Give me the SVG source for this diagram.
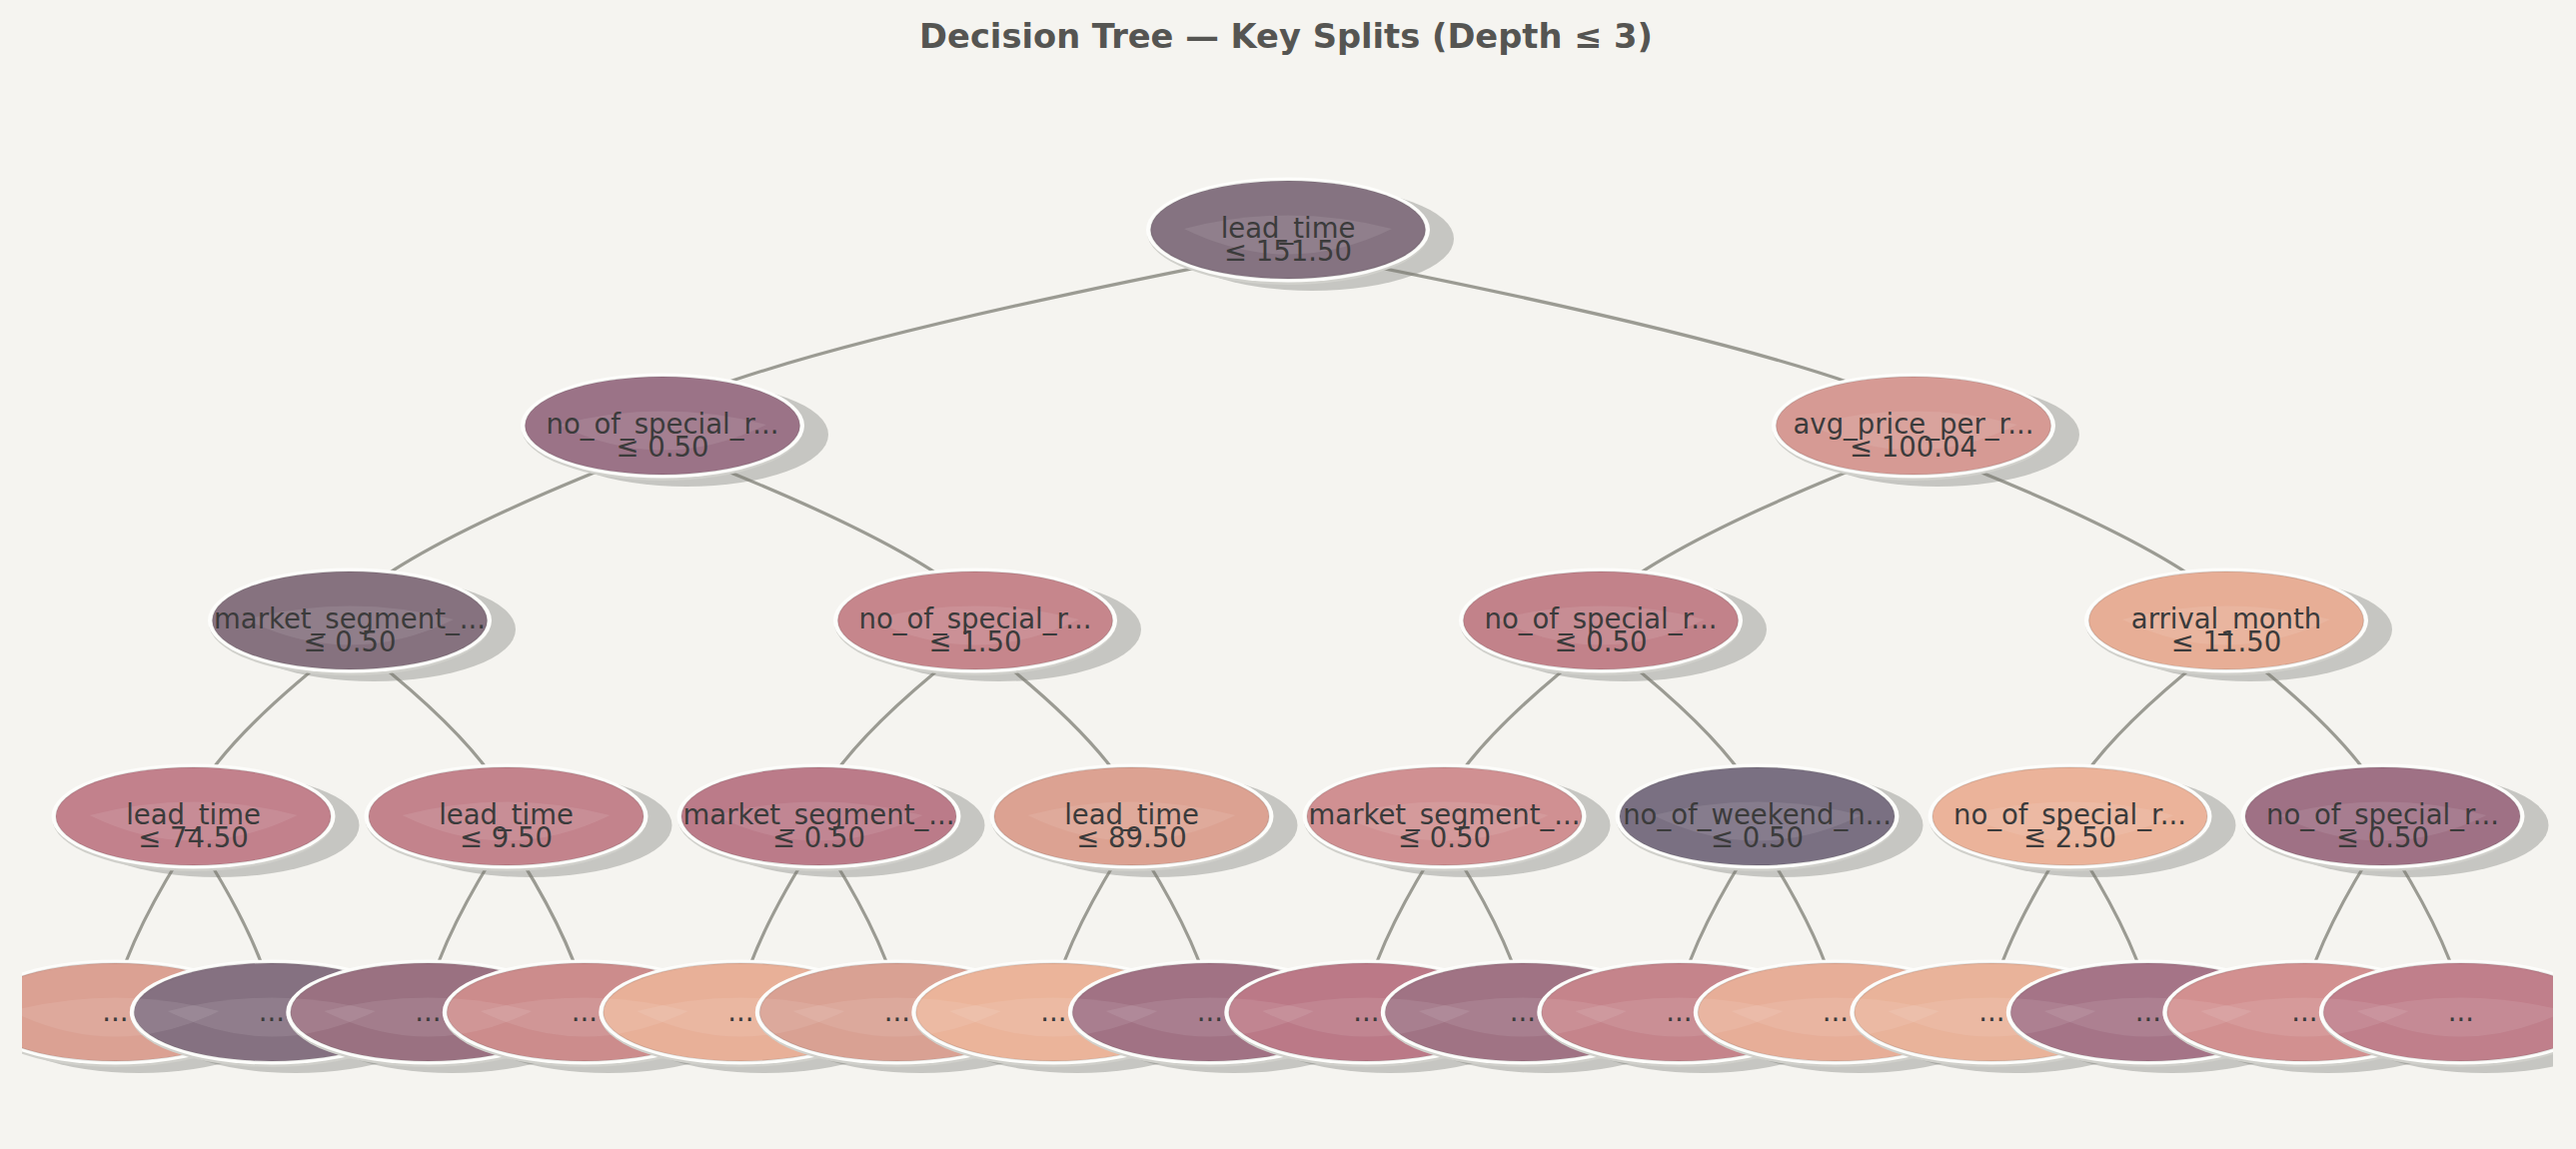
<svg xmlns="http://www.w3.org/2000/svg" xmlns:xlink="http://www.w3.org/1999/xlink" width="2578" height="1150" viewBox="0 0 2578 1150">
<defs>
<style>
.bg{fill:#f5f4f0}
.title{font-family:"DejaVu Sans","Liberation Sans",sans-serif;font-weight:bold;font-size:33.7px;fill:#555552;text-anchor:middle}
.sh{fill:#64685f;fill-opacity:0.32}
.edge{fill:none;stroke:#78786f;stroke-opacity:0.72;stroke-width:3.2;stroke-linecap:round}
.rimg{fill:#d0d0cb}
.rimw{fill:#fdfdfb}
.body{stroke:#000;stroke-opacity:0.1;stroke-width:1.5}
.hl{fill:#ffffff;fill-opacity:0.09}
.lbl{font-family:"DejaVu Sans","Liberation Sans",sans-serif;font-size:27.5px;fill:#3b3b3b;text-anchor:middle}
</style>
<clipPath id="plot"><rect x="22" y="0" width="2533" height="1150"/></clipPath>
<clipPath id="ell"><ellipse cx="0" cy="0" rx="142" ry="52.5"/></clipPath>
<path id="lens" d="M-104,-1 Q0,-28 104,-1 Q0,50 -104,-1Z"/>
<g id="shape">
<ellipse class="rimg" cx="0" cy="2.5" rx="141" ry="52.5"/>
<ellipse class="rimw" cx="0" cy="0" rx="142" ry="52.5"/>
</g>
</defs>
<rect class="bg" x="0" y="0" width="2578" height="1150"/>
<text class="title" x="1287" y="48">Decision Tree — Key Splits (Depth ≤ 3)</text>
<g clip-path="url(#plot)">
<g id="shadows">
<ellipse class="sh" cx="1313" cy="239" rx="142" ry="52"/>
<ellipse class="sh" cx="687" cy="435" rx="142" ry="52"/>
<ellipse class="sh" cx="1939" cy="435" rx="142" ry="52"/>
<ellipse class="sh" cx="374" cy="630" rx="142" ry="52"/>
<ellipse class="sh" cx="1000" cy="630" rx="142" ry="52"/>
<ellipse class="sh" cx="1626" cy="630" rx="142" ry="52"/>
<ellipse class="sh" cx="2252" cy="630" rx="142" ry="52"/>
<ellipse class="sh" cx="217.5" cy="826" rx="142" ry="52"/>
<ellipse class="sh" cx="530.5" cy="826" rx="142" ry="52"/>
<ellipse class="sh" cx="843.5" cy="826" rx="142" ry="52"/>
<ellipse class="sh" cx="1156.5" cy="826" rx="142" ry="52"/>
<ellipse class="sh" cx="1469.5" cy="826" rx="142" ry="52"/>
<ellipse class="sh" cx="1782.5" cy="826" rx="142" ry="52"/>
<ellipse class="sh" cx="2095.5" cy="826" rx="142" ry="52"/>
<ellipse class="sh" cx="2408.5" cy="826" rx="142" ry="52"/>
<ellipse class="sh" cx="139.3" cy="1022" rx="142" ry="52"/>
<ellipse class="sh" cx="295.8" cy="1022" rx="142" ry="52"/>
<ellipse class="sh" cx="452.3" cy="1022" rx="142" ry="52"/>
<ellipse class="sh" cx="608.8" cy="1022" rx="142" ry="52"/>
<ellipse class="sh" cx="765.3" cy="1022" rx="142" ry="52"/>
<ellipse class="sh" cx="921.8" cy="1022" rx="142" ry="52"/>
<ellipse class="sh" cx="1078.3" cy="1022" rx="142" ry="52"/>
<ellipse class="sh" cx="1234.8" cy="1022" rx="142" ry="52"/>
<ellipse class="sh" cx="1391.3" cy="1022" rx="142" ry="52"/>
<ellipse class="sh" cx="1547.8" cy="1022" rx="142" ry="52"/>
<ellipse class="sh" cx="1704.3" cy="1022" rx="142" ry="52"/>
<ellipse class="sh" cx="1860.8" cy="1022" rx="142" ry="52"/>
<ellipse class="sh" cx="2017.3" cy="1022" rx="142" ry="52"/>
<ellipse class="sh" cx="2173.8" cy="1022" rx="142" ry="52"/>
<ellipse class="sh" cx="2330.3" cy="1022" rx="142" ry="52"/>
<ellipse class="sh" cx="2486.8" cy="1022" rx="142" ry="52"/>
</g>
<g id="connectors">
<path class="edge" d="M1289,250 Q805.1,342.7 663,408"/>
<path class="edge" d="M1289,250 Q1772.9,342.7 1915,408"/>
<path class="edge" d="M663,446 Q421.1,538.7 350,603"/>
<path class="edge" d="M663,446 Q904.9,538.7 976,603"/>
<path class="edge" d="M1915,446 Q1673.1,538.7 1602,603"/>
<path class="edge" d="M1915,446 Q2156.9,538.7 2228,603"/>
<path class="edge" d="M350,641 Q229,733.7 193.5,799"/>
<path class="edge" d="M350,641 Q471,733.7 506.5,799"/>
<path class="edge" d="M976,641 Q855,733.7 819.5,799"/>
<path class="edge" d="M976,641 Q1097,733.7 1132.5,799"/>
<path class="edge" d="M1602,641 Q1481,733.7 1445.5,799"/>
<path class="edge" d="M1602,641 Q1723,733.7 1758.5,799"/>
<path class="edge" d="M2228,641 Q2107,733.7 2071.5,799"/>
<path class="edge" d="M2228,641 Q2349,733.7 2384.5,799"/>
<path class="edge" d="M193.5,837 Q133,929.7 115.3,995"/>
<path class="edge" d="M193.5,837 Q254,929.7 271.8,995"/>
<path class="edge" d="M506.5,837 Q446,929.7 428.3,995"/>
<path class="edge" d="M506.5,837 Q567,929.7 584.8,995"/>
<path class="edge" d="M819.5,837 Q759,929.7 741.3,995"/>
<path class="edge" d="M819.5,837 Q880,929.7 897.8,995"/>
<path class="edge" d="M1132.5,837 Q1072,929.7 1054.3,995"/>
<path class="edge" d="M1132.5,837 Q1193,929.7 1210.8,995"/>
<path class="edge" d="M1445.5,837 Q1385,929.7 1367.3,995"/>
<path class="edge" d="M1445.5,837 Q1506,929.7 1523.8,995"/>
<path class="edge" d="M1758.5,837 Q1698,929.7 1680.3,995"/>
<path class="edge" d="M1758.5,837 Q1819,929.7 1836.8,995"/>
<path class="edge" d="M2071.5,837 Q2011,929.7 1993.3,995"/>
<path class="edge" d="M2071.5,837 Q2132,929.7 2149.8,995"/>
<path class="edge" d="M2384.5,837 Q2324,929.7 2306.3,995"/>
<path class="edge" d="M2384.5,837 Q2445,929.7 2462.8,995"/>
</g>
<g id="nodes">
<g id="root" transform="translate(1289,230)"><use href="#shape"/><ellipse class="body" rx="137.5" ry="49" fill="#857381"/><use href="#lens" class="hl"/><text class="lbl"><tspan x="0" y="7.5">lead_time</tspan><tspan x="0" y="30.5">≤ 151.50</tspan></text></g>
<g id="n1L" transform="translate(663,426)"><use href="#shape"/><ellipse class="body" rx="137.5" ry="49" fill="#9b7387"/><use href="#lens" class="hl"/><text class="lbl"><tspan x="0" y="7.5">no_of_special_r...</tspan><tspan x="0" y="30.5">≤ 0.50</tspan></text></g>
<g id="n1R" transform="translate(1915,426)"><use href="#shape"/><ellipse class="body" rx="137.5" ry="49" fill="#d69a94"/><use href="#lens" class="hl"/><text class="lbl"><tspan x="0" y="7.5">avg_price_per_r...</tspan><tspan x="0" y="30.5">≤ 100.04</tspan></text></g>
<g id="n2a" transform="translate(350,621)"><use href="#shape"/><ellipse class="body" rx="137.5" ry="49" fill="#86727f"/><use href="#lens" class="hl"/><text class="lbl"><tspan x="0" y="7.5">market_segment_...</tspan><tspan x="0" y="30.5">≤ 0.50</tspan></text></g>
<g id="n2b" transform="translate(976,621)"><use href="#shape"/><ellipse class="body" rx="137.5" ry="49" fill="#c6868c"/><use href="#lens" class="hl"/><text class="lbl"><tspan x="0" y="7.5">no_of_special_r...</tspan><tspan x="0" y="30.5">≤ 1.50</tspan></text></g>
<g id="n2c" transform="translate(1602,621)"><use href="#shape"/><ellipse class="body" rx="137.5" ry="49" fill="#c2828a"/><use href="#lens" class="hl"/><text class="lbl"><tspan x="0" y="7.5">no_of_special_r...</tspan><tspan x="0" y="30.5">≤ 0.50</tspan></text></g>
<g id="n2d" transform="translate(2228,621)"><use href="#shape"/><ellipse class="body" rx="137.5" ry="49" fill="#e7ae96"/><use href="#lens" class="hl"/><text class="lbl"><tspan x="0" y="7.5">arrival_month</tspan><tspan x="0" y="30.5">≤ 11.50</tspan></text></g>
<g id="n3a" transform="translate(193.5,817)"><use href="#shape"/><ellipse class="body" rx="137.5" ry="49" fill="#c2818c"/><use href="#lens" class="hl"/><text class="lbl"><tspan x="0" y="7.5">lead_time</tspan><tspan x="0" y="30.5">≤ 74.50</tspan></text></g>
<g id="n3b" transform="translate(506.5,817)"><use href="#shape"/><ellipse class="body" rx="137.5" ry="49" fill="#c3838c"/><use href="#lens" class="hl"/><text class="lbl"><tspan x="0" y="7.5">lead_time</tspan><tspan x="0" y="30.5">≤ 9.50</tspan></text></g>
<g id="n3c" transform="translate(819.5,817)"><use href="#shape"/><ellipse class="body" rx="137.5" ry="49" fill="#bb7b89"/><use href="#lens" class="hl"/><text class="lbl"><tspan x="0" y="7.5">market_segment_...</tspan><tspan x="0" y="30.5">≤ 0.50</tspan></text></g>
<g id="n3d" transform="translate(1132.5,817)"><use href="#shape"/><ellipse class="body" rx="137.5" ry="49" fill="#dca292"/><use href="#lens" class="hl"/><text class="lbl"><tspan x="0" y="7.5">lead_time</tspan><tspan x="0" y="30.5">≤ 89.50</tspan></text></g>
<g id="n3e" transform="translate(1445.5,817)"><use href="#shape"/><ellipse class="body" rx="137.5" ry="49" fill="#d09092"/><use href="#lens" class="hl"/><text class="lbl"><tspan x="0" y="7.5">market_segment_...</tspan><tspan x="0" y="30.5">≤ 0.50</tspan></text></g>
<g id="n3f" transform="translate(1758.5,817)"><use href="#shape"/><ellipse class="body" rx="137.5" ry="49" fill="#7a7082"/><use href="#lens" class="hl"/><text class="lbl"><tspan x="0" y="7.5">no_of_weekend_n...</tspan><tspan x="0" y="30.5">≤ 0.50</tspan></text></g>
<g id="n3g" transform="translate(2071.5,817)"><use href="#shape"/><ellipse class="body" rx="137.5" ry="49" fill="#ebb39a"/><use href="#lens" class="hl"/><text class="lbl"><tspan x="0" y="7.5">no_of_special_r...</tspan><tspan x="0" y="30.5">≤ 2.50</tspan></text></g>
<g id="n3h" transform="translate(2384.5,817)"><use href="#shape"/><ellipse class="body" rx="137.5" ry="49" fill="#9f7185"/><use href="#lens" class="hl"/><text class="lbl"><tspan x="0" y="7.5">no_of_special_r...</tspan><tspan x="0" y="30.5">≤ 0.50</tspan></text></g>
<g id="leaf01" transform="translate(115.3,1013)"><use href="#shape"/><ellipse class="body" rx="137.5" ry="49" fill="#dba193"/><use href="#lens" class="hl"/><text class="lbl" x="0" y="9">...</text></g>
<g id="leaf02" transform="translate(271.8,1013)"><use href="#shape"/><ellipse class="body" rx="137.5" ry="49" fill="#857181"/><g clip-path="url(#ell)"><use href="#lens" class="hl" x="-156.5"/></g><use href="#lens" class="hl"/><text class="lbl" x="0" y="9">...</text></g>
<g id="leaf03" transform="translate(428.3,1013)"><use href="#shape"/><ellipse class="body" rx="137.5" ry="49" fill="#9a7181"/><g clip-path="url(#ell)"><use href="#lens" class="hl" x="-156.5"/></g><use href="#lens" class="hl"/><text class="lbl" x="0" y="9">...</text></g>
<g id="leaf04" transform="translate(584.8,1013)"><use href="#shape"/><ellipse class="body" rx="137.5" ry="49" fill="#cc8c8c"/><g clip-path="url(#ell)"><use href="#lens" class="hl" x="-156.5"/></g><use href="#lens" class="hl"/><text class="lbl" x="0" y="9">...</text></g>
<g id="leaf05" transform="translate(741.3,1013)"><use href="#shape"/><ellipse class="body" rx="137.5" ry="49" fill="#e8b098"/><g clip-path="url(#ell)"><use href="#lens" class="hl" x="-156.5"/></g><use href="#lens" class="hl"/><text class="lbl" x="0" y="9">...</text></g>
<g id="leaf06" transform="translate(897.8,1013)"><use href="#shape"/><ellipse class="body" rx="137.5" ry="49" fill="#d9a193"/><g clip-path="url(#ell)"><use href="#lens" class="hl" x="-156.5"/></g><use href="#lens" class="hl"/><text class="lbl" x="0" y="9">...</text></g>
<g id="leaf07" transform="translate(1054.3,1013)"><use href="#shape"/><ellipse class="body" rx="137.5" ry="49" fill="#ebb49a"/><g clip-path="url(#ell)"><use href="#lens" class="hl" x="-156.5"/></g><use href="#lens" class="hl"/><text class="lbl" x="0" y="9">...</text></g>
<g id="leaf08" transform="translate(1210.8,1013)"><use href="#shape"/><ellipse class="body" rx="137.5" ry="49" fill="#a17284"/><g clip-path="url(#ell)"><use href="#lens" class="hl" x="-156.5"/></g><use href="#lens" class="hl"/><text class="lbl" x="0" y="9">...</text></g>
<g id="leaf09" transform="translate(1367.3,1013)"><use href="#shape"/><ellipse class="body" rx="137.5" ry="49" fill="#bb7987"/><g clip-path="url(#ell)"><use href="#lens" class="hl" x="-156.5"/></g><use href="#lens" class="hl"/><text class="lbl" x="0" y="9">...</text></g>
<g id="leaf10" transform="translate(1523.8,1013)"><use href="#shape"/><ellipse class="body" rx="137.5" ry="49" fill="#a07384"/><g clip-path="url(#ell)"><use href="#lens" class="hl" x="-156.5"/></g><use href="#lens" class="hl"/><text class="lbl" x="0" y="9">...</text></g>
<g id="leaf11" transform="translate(1680.3,1013)"><use href="#shape"/><ellipse class="body" rx="137.5" ry="49" fill="#c5848b"/><g clip-path="url(#ell)"><use href="#lens" class="hl" x="-156.5"/></g><use href="#lens" class="hl"/><text class="lbl" x="0" y="9">...</text></g>
<g id="leaf12" transform="translate(1836.8,1013)"><use href="#shape"/><ellipse class="body" rx="137.5" ry="49" fill="#e7ae98"/><g clip-path="url(#ell)"><use href="#lens" class="hl" x="-156.5"/></g><use href="#lens" class="hl"/><text class="lbl" x="0" y="9">...</text></g>
<g id="leaf13" transform="translate(1993.3,1013)"><use href="#shape"/><ellipse class="body" rx="137.5" ry="49" fill="#e9b39a"/><g clip-path="url(#ell)"><use href="#lens" class="hl" x="-156.5"/></g><use href="#lens" class="hl"/><text class="lbl" x="0" y="9">...</text></g>
<g id="leaf14" transform="translate(2149.8,1013)"><use href="#shape"/><ellipse class="body" rx="137.5" ry="49" fill="#a57487"/><g clip-path="url(#ell)"><use href="#lens" class="hl" x="-156.5"/></g><use href="#lens" class="hl"/><text class="lbl" x="0" y="9">...</text></g>
<g id="leaf15" transform="translate(2306.3,1013)"><use href="#shape"/><ellipse class="body" rx="137.5" ry="49" fill="#d29090"/><g clip-path="url(#ell)"><use href="#lens" class="hl" x="-156.5"/></g><use href="#lens" class="hl"/><text class="lbl" x="0" y="9">...</text></g>
<g id="leaf16" transform="translate(2462.8,1013)"><use href="#shape"/><ellipse class="body" rx="137.5" ry="49" fill="#c07f8b"/><g clip-path="url(#ell)"><use href="#lens" class="hl" x="-156.5"/></g><use href="#lens" class="hl"/><text class="lbl" x="0" y="9">...</text></g>
</g>
</g>
</svg>
